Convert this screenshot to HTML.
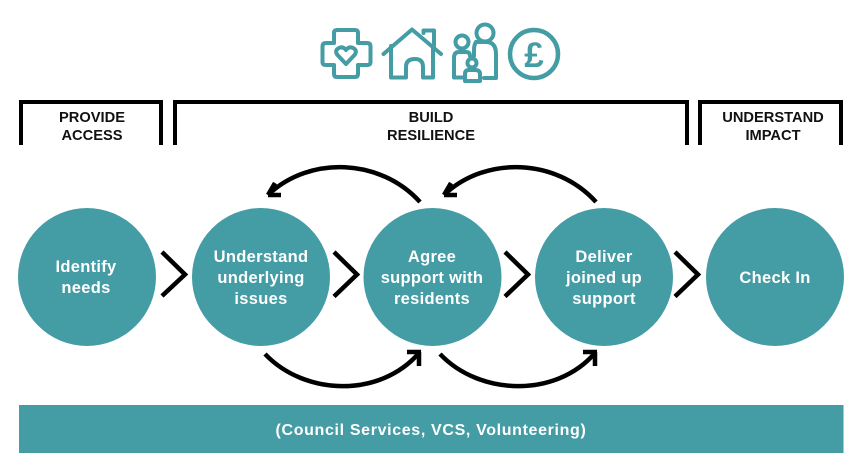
<!DOCTYPE html>
<html lang="en">
<head>
<meta charset="utf-8">
<title>Diagram</title>
<style>
html,body{margin:0;padding:0;background:#fff;width:865px;height:476px;overflow:hidden}
svg{display:block}
text{font-family:"Liberation Sans",Arial,sans-serif;font-weight:700;text-anchor:middle}
.h{font-size:14.67px;fill:#111}
.c{font-size:16.5px;fill:#fff;letter-spacing:.3px}
.ln{fill:none;stroke:#000;stroke-width:4.5}
.br{fill:none;stroke:#000;stroke-width:4}
.ic{fill:none;stroke:#449ca5;stroke-width:4;stroke-linejoin:round;stroke-linecap:round}
</style>
</head>
<body>
<svg width="865" height="476" viewBox="0 0 865 476" xmlns="http://www.w3.org/2000/svg">
<!-- icons -->
<g class="ic">
<path d="M337 30H355Q358 30 358 33V43H367Q370.500 43 370.500 46.500V62Q370.500 65 367 65H358V74Q358 77 355 77H337Q334 77 334 74V65H326Q322.500 65 322.500 62V46.500Q322.500 43 326 43H334V33Q334 30 337 30Z"/>
<path d="M346 64L337.500 55Q334.500 51 338 48.500Q342.500 45.500 346 50Q349.500 45.500 354 48.500Q357.500 51 354.500 55Z"/>
<path d="M383.500 54L412 29.500L441 54"/>
<path d="M391 46V77.500H406V67Q406 59 415 59Q423 59 423 67V77.500H433V46"/>
<path d="M423.500 33V30.500H434V46"/>
<circle cx="485" cy="33" r="8.500"/>
<circle cx="462" cy="42" r="6.500"/>
<circle cx="472" cy="63" r="4.500"/>
<path d="M476 42H486Q496 42 496 54V78H484"/>
<path d="M476 42Q474 45 474 50V56"/>
<path d="M464 77.500H454V58Q454 52 459 52H466Q470 52 470 56"/>
<path d="M465 81V74Q465 70 469 70H475Q480 70 480 74V81Z"/>
</g>
<circle cx="534" cy="54" r="24" fill="none" stroke="#449ca5" stroke-width="4.500"/>
<text x="534" y="67" style="font-size:35px;fill:#449ca5">£</text>
<!-- brackets -->
<path class="br" d="M21 145V102H161V145"/>
<path class="br" d="M175 145V102H687V145"/>
<path class="br" d="M700 145V102H841V145"/>
<text class="h" x="92" y="122">PROVIDE</text>
<text class="h" x="92" y="140">ACCESS</text>
<text class="h" x="431" y="122">BUILD</text>
<text class="h" x="431" y="140">RESILIENCE</text>
<text class="h" x="773" y="122">UNDERSTAND</text>
<text class="h" x="773" y="140">IMPACT</text>
<!-- circles -->
<g fill="#449ca5">
<circle cx="87" cy="277" r="69"/>
<circle cx="261" cy="277" r="69"/>
<circle cx="432.500" cy="277" r="69"/>
<circle cx="604" cy="277" r="69"/>
<circle cx="775" cy="277" r="69"/>
</g>
<text class="c" x="86" y="272">Identify</text>
<text class="c" x="86" y="293">needs</text>
<text class="c" x="261" y="262">Understand</text>
<text class="c" x="261" y="283">underlying</text>
<text class="c" x="261" y="304">issues</text>
<text class="c" x="432" y="262">Agree</text>
<text class="c" x="432" y="283">support with</text>
<text class="c" x="432" y="304">residents</text>
<text class="c" x="604" y="262">Deliver</text>
<text class="c" x="604" y="283">joined up</text>
<text class="c" x="604" y="304">support</text>
<text class="c" x="775" y="283">Check In</text>
<!-- chevrons -->
<g class="ln">
<path d="M162 252L185 274.500L162 296"/>
<path d="M334 252L357 274.500L334 296.500"/>
<path d="M505 252L528 274.500L505 296.500"/>
<path d="M675 252L698 274.500L675 296.500"/>
</g>
<!-- arcs -->
<g class="ln">
<path d="M420 202C380 158 310 156 269 194"/>
<path d="M268 195L281 195M268 195L275 183"/>
<path d="M596 202C556 158 486 156 445 194"/>
<path d="M444 195L457 195M444 195L451 183"/>
<path d="M265 354C305 396 380 398 419 353"/>
<path d="M421 352H407M419 352V366"/>
<path d="M440 354C480 396 556 398 595 353"/>
<path d="M597 352H583M595 352V366"/>
</g>
<!-- banner -->
<rect x="19" y="405" width="824.500" height="48" fill="#449ca5"/>
<text x="431" y="435" style="font-size:16px;fill:#fff;letter-spacing:.65px">(Council Services, VCS, Volunteering)</text>
</svg>
</body>
</html>
